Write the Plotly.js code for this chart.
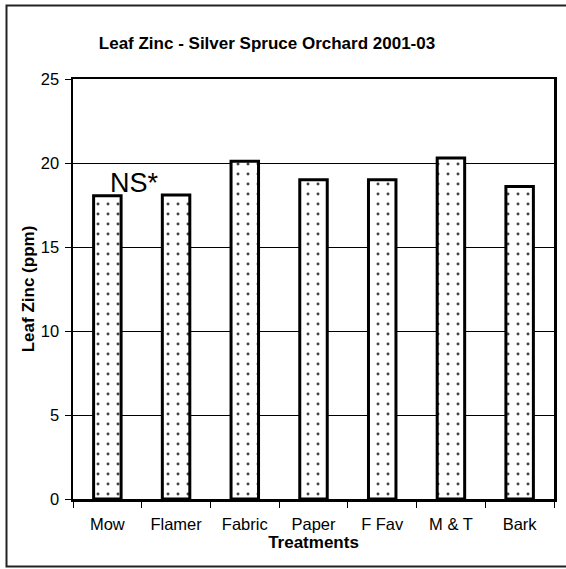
<!DOCTYPE html>
<html>
<head>
<meta charset="utf-8">
<script src="https://cdn.plot.ly/plotly-3.0.1.min.js"></script>
<style>
  body { margin: 0; background: #fff; }
  #chart { width: 566px; height: 569px; }
</style>
</head>
<body>
<div id="chart"></div>
<script>
// treatments and leaf zinc values (ppm)
const treatments = ["Mow", "Flamer", "Fabric", "Paper", "F Fav", "M & T", "Bark"];
const leafZinc = [18.05, 18.1, 20.1, 19.0, 19.0, 20.3, 18.6];
const yTicks = [0, 5, 10, 15, 20, 25];

const data = [{
    x: treatments,
    y: leafZinc,
    type: "bar",
    marker: {
        color: "#ffffff",
        line: {color: "#000000", width: 3},
        pattern: {shape: ".", fgcolor: "#444444", bgcolor: "#ffffff", size: 10, solidity: 0.07}
    },
    hoverinfo: "skip"
}];

const font = "Arial, 'Liberation Sans', sans-serif";

const layout = {
    width: 566,
    height: 569,
    margin: {l: 73, r: 12, t: 79, b: 70},
    paper_bgcolor: "#ffffff",
    plot_bgcolor: "#ffffff",
    showlegend: false,
    bargap: 0.6,
    font: {family: font, color: "#000000", size: 16},
    title: {
        text: "<b>Leaf Zinc - Silver Spruce Orchard 2001-03</b>",
        font: {family: font, size: 17, color: "#000000"},
        x: 267 / 566, xanchor: "center",
        y: 1 - 43 / 569, yanchor: "middle"
    },
    xaxis: {
        type: "category",
        showline: true, mirror: true, linecolor: "#000000", linewidth: 2.5,
        ticks: "outside", tickson: "boundaries", ticklen: 6, tickcolor: "#000000", tickwidth: 1,
        ticklabelstandoff: 9,
        showgrid: false,
        tickfont: {family: font, size: 16.5, color: "#000000"},
        title: {text: "<b>Treatments</b>", font: {family: font, size: 17, color: "#000000"}, standoff: 1}
    },
    yaxis: {
        range: [0, 25],
        tickvals: yTicks,
        showline: true, mirror: true, linecolor: "#000000", linewidth: 2.5,
        ticks: "outside", ticklen: 6, tickcolor: "#000000", tickwidth: 1,
        ticklabelstandoff: 2,
        showgrid: true, gridcolor: "#000000", gridwidth: 1,
        zeroline: false,
        tickfont: {family: font, size: 16.5, color: "#000000"},
        title: {text: "<b>Leaf Zinc (ppm)</b>", font: {family: font, size: 17, color: "#000000"}, standoff: 2}
    },
    annotations: [{
        x: "Mow", y: 18.8, xref: "x", yref: "y",
        text: "NS*", showarrow: false,
        xanchor: "left", yanchor: "middle", xshift: 1,
        font: {family: font, size: 27, color: "#000000"}
    }],
    shapes: [{
        type: "rect", xref: "paper", yref: "paper",
        x0: (6.5 - 73) / 481, x1: (572 - 73) / 481,
        y0: (499 - 566.5) / 420, y1: (499 - 5.5) / 420,
        line: {color: "#222222", width: 2}, fillcolor: "rgba(0,0,0,0)"
    }]
};

Plotly.newPlot("chart", data, layout, {displayModeBar: false, staticPlot: true});
</script>
</body>
</html>
